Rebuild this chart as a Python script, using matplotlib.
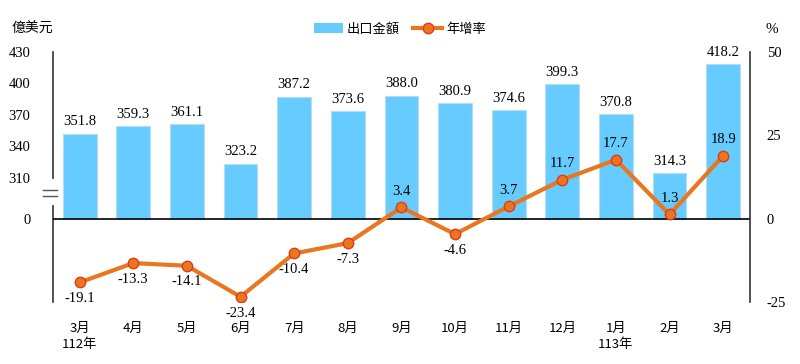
import matplotlib
matplotlib.use("Agg")
import matplotlib.pyplot as plt
from matplotlib.lines import Line2D
from matplotlib.patches import Patch
import numpy as np

months = ["3月\n112年", "4月", "5月", "6月", "7月", "8月", "9月", "10月", "11月", "12月", "1月\n113年", "2月", "3月"]
exports = [351.8, 359.3, 361.1, 323.2, 387.2, 373.6, 388.0, 380.9, 374.6, 399.3, 370.8, 314.3, 418.2]
growth = [-19.1, -13.3, -14.1, -23.4, -10.4, -7.3, 3.4, -4.6, 3.7, 11.7, 17.7, 1.3, 18.9]
left_ticks = [0, 310, 340, 370, 400, 430]
right_ticks = [-25, 0, 25, 50]

NUM = ["Liberation Serif", "Noto Sans CJK TC"]
CJK = ["Noto Sans CJK TC", "Liberation Serif"]

# broken left scale: 0..310 squeezed, 310..430 expanded
src = [-10000, 0, 310, 10000]
dst = [-10000, 0, 12.3, 12.3 + (10000 - 310) * 0.3142]
def fwd(v):
    return np.interp(v, src, dst)
def inv(v):
    return np.interp(v, dst, src)

fig = plt.figure(figsize=(8, 3.64), dpi=100)
ax = fig.add_axes([0.066, 0.170, 0.8715, 0.687])
ax.set_yscale("function", functions=(fwd, inv))
ax.set_ylim(-25, 430)
ax.set_xlim(-0.5, len(months) - 0.5)
x = np.arange(len(months))

bar_color = "#66CCFF"
ax.bar(x, exports, width=0.63, color=bar_color, edgecolor="#B8DCEC", linewidth=0.8, zorder=2)
for xi, v in zip(x, exports):
    ax.annotate(f"{v:.1f}", (xi, v), xytext=(0, 4), textcoords="offset points",
                ha="center", va="bottom", fontsize=10.5, family=NUM)

ax.set_yticks(left_ticks)
ax.set_yticklabels([str(t) for t in left_ticks], family=NUM, fontsize=10.5)
ax.tick_params(axis="y", length=0, pad=16)
ax.set_xticks(x)
ax.set_xticklabels(months, family=CJK, fontsize=9.5, linespacing=1.3)
ax.tick_params(axis="x", length=0, pad=14)
for s in ["top", "bottom", "right"]:
    ax.spines[s].set_visible(False)
ax.spines["left"].set_color("#333333")
ax.spines["left"].set_linewidth(1.2)
ax.axhline(0, color="black", linewidth=1.2, zorder=3)

# axis break marks
tr = ax.get_yaxis_transform()
ax.plot([0, 0], [inv(4.8), inv(11.4)], color="white", linewidth=3, transform=tr, clip_on=False, zorder=5)
for yy in [inv(6.9), inv(8.7)]:
    ax.plot([-0.0143, 0.0057], [yy, yy], color="#555555", linewidth=1.0, transform=tr, clip_on=False, zorder=6)

ax2 = ax.twinx()
ax2.set_ylim(-25, 50)
line_color = "#E8771F"
ax2.plot(x, growth, color=line_color, linewidth=3, marker="o", markersize=7.5,
         markerfacecolor=line_color, markeredgecolor="#E03A1A", markeredgewidth=1, zorder=4)
for xi, g in zip(x, growth):
    if g < 0:
        off, va = -7, "top"
    else:
        off, va = 7, "bottom"
    ax2.annotate(f"{g:.1f}", (xi, g), xytext=(0, off), textcoords="offset points",
                 ha="center", va=va, fontsize=10.5, family=NUM)
ax2.set_yticks(right_ticks)
ax2.set_yticklabels([str(t) for t in right_ticks], family=NUM, fontsize=10.5)
ax2.tick_params(axis="y", length=0, pad=12)
for s in ["top", "bottom", "left"]:
    ax2.spines[s].set_visible(False)
ax2.spines["right"].set_color("#333333")
ax2.spines["right"].set_linewidth(1.2)

fig.text(0.015, 0.92, "億美元", family=CJK, fontsize=10, ha="left", va="center")
fig.text(0.957, 0.92, "%", family=NUM, fontsize=11, ha="left", va="center")

handles = [Patch(facecolor=bar_color, edgecolor="none"),
           Line2D([0], [0], color=line_color, linewidth=3, marker="o", markersize=7.5,
                  markerfacecolor=line_color, markeredgecolor="#E03A1A")]
leg = fig.legend(handles, ["出口金額", "年增率"], loc="center", bbox_to_anchor=(0.5, 0.92),
                 ncol=2, frameon=False, prop={"family": CJK, "size": 9.5},
                 handlelength=2.2, handletextpad=0.3, columnspacing=1.0)

fig.savefig("out.png", dpi=100)
